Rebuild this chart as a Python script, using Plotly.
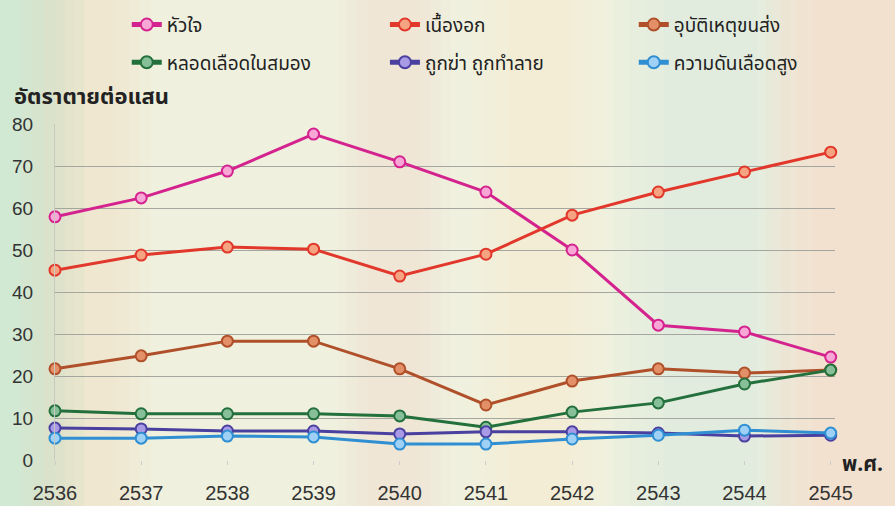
import plotly.graph_objects as go

years = [2536, 2537, 2538, 2539, 2540, 2541, 2542, 2543, 2544, 2545]
year_labels = [str(y) for y in years]

heart = [57.9, 62.4, 68.8, 77.6, 71.0, 63.8, 50.0, 32.1, 30.5, 24.5]
cancer = [45.2, 48.8, 50.7, 50.2, 43.8, 49.0, 58.3, 63.8, 68.6, 73.3]
accident = [21.7, 24.8, 28.3, 28.3, 21.7, 13.1, 18.8, 21.7, 20.7, 21.4]
stroke = [11.7, 11.0, 11.0, 11.0, 10.5, 7.8, 11.4, 13.6, 18.1, 21.4]
homicide = [7.6, 7.4, 6.9, 6.9, 6.2, 6.7, 6.7, 6.4, 5.7, 5.9]
hypertension = [5.2, 5.2, 5.7, 5.5, 3.8, 3.8, 5.0, 5.9, 7.1, 6.4]

series_names = ["หัวใจ", "เนื้องอก", "อุบัติเหตุขนส่ง",
                "หลอดเลือดในสมอง", "ถูกฆ่า ถูกทำลาย", "ความดันเลือดสูง"]
series_values = [heart, cancer, accident, stroke, homicide, hypertension]
line_colors = ["#d4238e", "#e2372b", "#b0502a", "#23703c", "#4a40a0", "#2f8fd2"]
fill_colors = ["#f7a6d6", "#f6a382", "#e39068", "#86bf98", "#a99ae6", "#9fd0f5"]
legend_ids = ["legend", "legend2", "legend3", "legend", "legend2", "legend3"]

y_ticks = [0, 10, 20, 30, 40, 50, 60, 70, 80]

FONT = "Liberation Sans, Arial, Noto Sans, sans-serif"
THAI = "Noto Sans Thai, Noto Sans, DejaVu Sans, sans-serif"

fig = go.Figure()
for i, (name, vals, lc, fc, lg) in enumerate(zip(series_names, series_values,
                                                  line_colors, fill_colors, legend_ids)):
    fig.add_trace(go.Scatter(
        x=years, y=vals, name=name, mode="lines+markers",
        line=dict(color=lc, width=3),
        marker=dict(size=11, color=fc, line=dict(color=lc, width=2)),
        cliponaxis=False, legend=lg, legendgroup=f"g{i}",
    ))

# soft, blurred-looking background bands (layered low-opacity rectangles)
bands = [
    (-0.07, 0.0, (195, 228, 205), 0.5),
    (0.0, 0.08, (248, 212, 190), 0.22),
    (0.40, 0.47, (248, 215, 195), 0.2),
    (0.58, 0.66, (250, 238, 200), 0.2),
    (0.78, 0.90, (205, 235, 225), 0.28),
    (0.97, 1.08, (248, 212, 195), 0.36),
]
for x0, x1, (r, g, b), a in bands:
    w = x1 - x0
    for k in range(4):
        pad = w * 0.18 * k
        fig.add_shape(type="rect", xref="paper", yref="paper",
                      x0=x0 - pad, x1=x1 + pad, y0=-0.2, y1=1.45,
                      fillcolor=f"rgba({r},{g},{b},{a / 2.2:.3f})",
                      line=dict(width=0), layer="below")

legend_common = dict(
    orientation="v", yanchor="top", xanchor="left", y=1.352,
    font=dict(family=THAI, size=19, color="#222"),
    bgcolor="rgba(0,0,0,0)", tracegroupgap=10, itemsizing="constant",
)

fig.update_layout(
    width=895, height=506,
    margin=dict(l=55, r=60, t=124, b=46, autoexpand=False),
    paper_bgcolor="#eff1de",
    plot_bgcolor="rgba(0,0,0,0)",
    showlegend=True,
    legend=dict(x=0.092, **legend_common),
    legend2=dict(x=0.423, **legend_common),
    legend3=dict(x=0.742, **legend_common),
    xaxis=dict(
        range=[2536, 2545.05], tickvals=years, ticktext=year_labels,
        showgrid=False, zeroline=False, showline=False, automargin=False,
        ticks="outside", ticklen=4, tickcolor="#cccccc",
        tickfont=dict(family=FONT, size=20, color="#333"),
        ticklabelstandoff=11,
    ),
    yaxis=dict(
        range=[0, 80], tickvals=y_ticks, automargin=False,
        showgrid=True, gridcolor="#a6a6a0", gridwidth=1,
        zeroline=False, showline=True, linecolor="#c8c8c0", linewidth=1,
        tickfont=dict(family=FONT, size=19, color="#333"),
        ticks="", ticklabelstandoff=17,
    ),
    annotations=[
        dict(text="<b>อัตราตายต่อแสน</b>", xref="paper", yref="paper",
             x=-0.055, y=1.025, xanchor="left", yanchor="bottom", showarrow=False,
             font=dict(family=THAI, size=22, color="#222")),
        dict(text="<b>พ.ศ.</b>", xref="paper", yref="paper",
             x=1.006, y=-0.012, xanchor="left", yanchor="middle", showarrow=False,
             font=dict(family=THAI, size=21, color="#222")),
    ],
)

fig.write_html("out.html", config={"displayModeBar": False},
               post_script="document.body.style.margin='0px';")
